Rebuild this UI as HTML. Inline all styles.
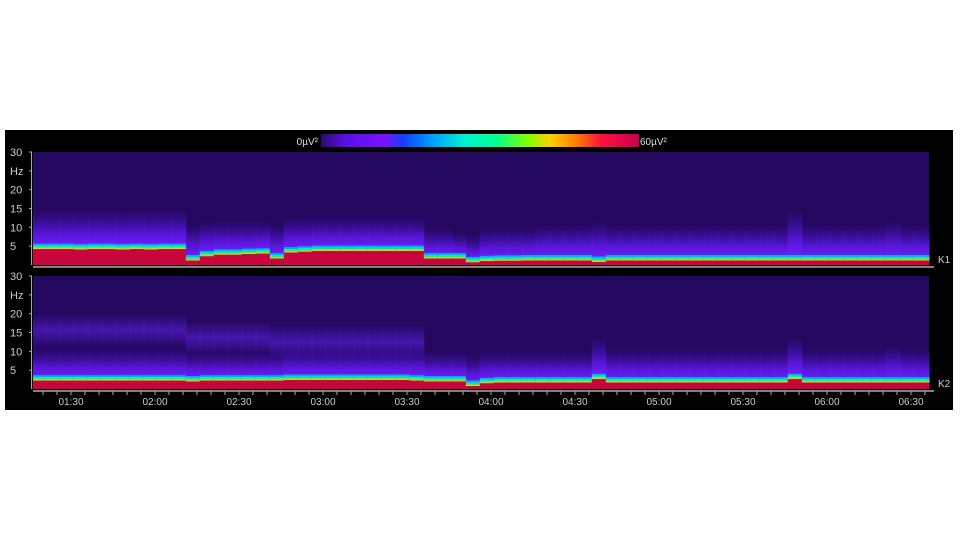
<!DOCTYPE html>
<html><head><meta charset="utf-8">
<style>
body{margin:0;background:#fff;width:960px;height:540px;overflow:hidden;font-family:"Liberation Sans",sans-serif}
svg{position:absolute;left:0;top:0}
</style></head>
<body>
<svg id="chart" width="960" height="540">
<defs>
<linearGradient id="cbar" x1="0" x2="1" y1="0" y2="0">
<stop offset="0" stop-color="#2a0a70"/><stop offset="0.08" stop-color="#5a10e8"/><stop offset="0.2" stop-color="#7a10ff"/>
<stop offset="0.26" stop-color="#1040ff"/><stop offset="0.35" stop-color="#00a0ff"/><stop offset="0.45" stop-color="#00f0d0"/>
<stop offset="0.55" stop-color="#00ff90"/><stop offset="0.65" stop-color="#80ff00"/><stop offset="0.72" stop-color="#ffd000"/>
<stop offset="0.8" stop-color="#ff8000"/><stop offset="0.88" stop-color="#ff1040"/><stop offset="1" stop-color="#c8004a"/>
</linearGradient>
<linearGradient id="haze" x1="0" x2="0" y1="1" y2="0">
<stop offset="0" stop-color="#7a22ff" stop-opacity="1"/><stop offset="0.4" stop-color="#6418f4" stop-opacity="0.8"/><stop offset="1" stop-color="#3a10b0" stop-opacity="0"/>
</linearGradient>
<linearGradient id="upper" x1="0" x2="0" y1="1" y2="0">
<stop offset="0" stop-color="#5a1ee0" stop-opacity="0"/><stop offset="0.5" stop-color="#5a1ee0" stop-opacity="0.6"/><stop offset="1" stop-color="#5a1ee0" stop-opacity="0"/>
</linearGradient>
</defs>
<rect x="5" y="130" width="948" height="280" fill="#000"/>
<text x="318" y="145" fill="#ddd" font-size="10" text-anchor="end">0µV²</text>
<rect x="321" y="134" width="318" height="13" fill="url(#cbar)"/>
<text x="640" y="145" fill="#ddd" font-size="10">60µV²</text>
<g id="panels"></g>
<g id="axis"></g>
</svg>
<script>
// time bins: 5-minute bins starting at 01:16 (minutes since midnight)
const binStartMin = 76;
const binMinutes = 5;
const k1Red   = [4.2,4.2,4.2,4.1,4.2,4.2,4.1,4.2,4.1,4.2,4.2,1.2,2.3,2.7,2.7,2.9,3,1.7,3.3,3.5,3.7,3.7,3.7,3.7,3.7,3.7,3.7,3.7,1.7,1.7,1.7,0.7,1,1.1,1.1,1.2,1.2,1.2,1.2,1.2,0.8,1.2,1.2,1.2,1.2,1.2,1.2,1.2,1.2,1.2,1.2,1.2,1.2,1.2,1.2,1.2,1.2,1.2,1.2,1.2,1.2,1.2,1.2,1.2,1.2];
const k1Haze  = [10,10,10,10,10,10,10,10,10,10,10,6,7,7,7,7,7,6,8,8,8,8,8,8,8,8,8,8,5,5,4,3,5,5,5,5,6,6,6,6,7,6,6,6,6,6,6,6,6,6,6,6,6,6,10,6,6,6,6,6,6,7,6,6,6];
const k2Red   = [2.2,2.2,2.2,2.2,2.2,2.2,2.2,2.2,2.2,2.2,2.2,2,2.2,2.2,2.2,2.2,2.2,2.2,2.4,2.4,2.4,2.4,2.4,2.4,2.4,2.4,2.4,2.2,2,2,2,0.8,1.5,1.7,1.7,1.7,1.7,1.7,1.7,1.7,2.6,1.7,1.7,1.7,1.7,1.7,1.7,1.7,1.7,1.7,1.7,1.7,1.7,1.7,2.6,1.7,1.7,1.7,1.7,1.7,1.7,1.7,1.7,1.7,1.7];
const k2Haze  = [6,6,6,6,6,6,6,6,6,6,6,5,5,5,5,5,5,5,6,6,6,6,6,6,6,6,6,6,5,5,5,4,5,5,5,5,5,5,5,5,9,6,6,6,6,6,6,6,6,6,6,6,6,6,9,6,6,6,6,6,6,7,6,6,6];
const k2Upper = [16,16,16,16,16,16,16,16,16,16,16,14,14,14,14,14,14,13,13,13,13,13,13,13,13,13,13,13,0,0,0,0,0,0,0,0,0,0,0,0,0,0,0,0,0,0,0,0,0,0,0,0,0,0,0,0,0,0,0,0,0,0,0,0,0];
const freqTicks = ["30","Hz","20","15","10","5"];
const freqVals = [30,25,20,15,10,5];
const timeLabels = ["01:30","02:00","02:30","03:00","03:30","04:00","04:30","05:00","05:30","06:00","06:30"];
const timeLabelMins = [90,120,150,180,210,240,270,300,330,360,390];

const NS="http://www.w3.org/2000/svg";
const X0=33,X1=929,pxPerMin=84/30;
const xOf=m=>71+(m-90)*pxPerMin;
function mk(tag,attrs,parent){const e=document.createElementNS(NS,tag);for(const k in attrs)e.setAttribute(k,attrs[k]);parent.appendChild(e);return e;}
const panels=document.getElementById('panels');
function panel(name,top,bot,red,haze,upper,label){
  const g=mk('g',{},panels);
  
  
  const bg=mk('rect',{x:X0,y:top,width:X1-X0,height:bot-top,fill:'#250860'},g);
  
  
  const yOf=f=>bot-(f/30)*(bot-top);
  for(let i=0;i<red.length;i++){
    const xa=Math.max(X0,xOf(binStartMin+i*binMinutes)),xb=Math.min(X1,xOf(binStartMin+(i+1)*binMinutes));
    if(xb<=xa)continue;const w=xb-xa+0.5;
    if(upper&&upper[i]>0){const u=mk('rect',{x:xa,y:yOf(upper[i]+4),width:w,height:yOf(upper[i]-5)-yOf(upper[i]+4),fill:'url(#upper)'},g);
      
      }
    const h=mk('rect',{x:xa,y:yOf(haze[i]+5),width:w,height:yOf(red[i])-yOf(haze[i]+5),fill:'url(#haze)'},g);
    
    
    const r0=yOf(red[i]);
    const bands=[['#00b0ff',0.45],['#00f0c0',0.4],['#40ff60',0.3],['#e0e000',0.3]];
    let f=red[i]+1.45;
    bands.forEach(b=>{const r=mk('rect',{x:xa,y:yOf(f),width:w,height:yOf(f-b[1])-yOf(f),fill:b[0]},g);
      
      f-=b[1];});
    const rr=mk('rect',{x:xa,y:r0,width:w,height:bot-r0,fill:'#c8063c'},g);
    
    
  }
  freqVals.forEach((v,j)=>{const t=mk('text',{x:10,y:yOf(v)+4,fill:'#ccc','font-size':11},g);t.textContent=freqTicks[j];
    
    
    mk('line',{x1:29,x2:32,y1:yOf(v),y2:yOf(v),stroke:'#aaa'},g);});
  mk('line',{x1:31.5,x2:31.5,y1:top,y2:bot,stroke:'#aaa'},g);
  mk('line',{x1:X0,x2:X1+5,y1:bot+2,y2:bot+2,stroke:'#aaa','stroke-width':1.5},g);
  const l=mk('text',{x:938,y:bot-2,fill:'#ccc','font-size':10},g);l.textContent=label;
  
  
}
panel('k1',152,265,k1Red,k1Haze,null,'K1');
panel('k2',276,389,k2Red,k2Haze,k2Upper,'K2');
const ax=document.getElementById('axis');


for(let m=80;m<=395;m+=5){const x=xOf(m);if(x<X0||x>X1)continue;mk('line',{x1:x,x2:x,y1:391,y2:395,stroke:'#aaa'},ax);}
timeLabelMins.forEach((m,j)=>{const t=mk('text',{x:xOf(m),y:405,fill:'#ccc','font-size':10,'text-anchor':'middle'},ax);t.textContent=timeLabels[j];
  
  });
</script>
</body></html>
